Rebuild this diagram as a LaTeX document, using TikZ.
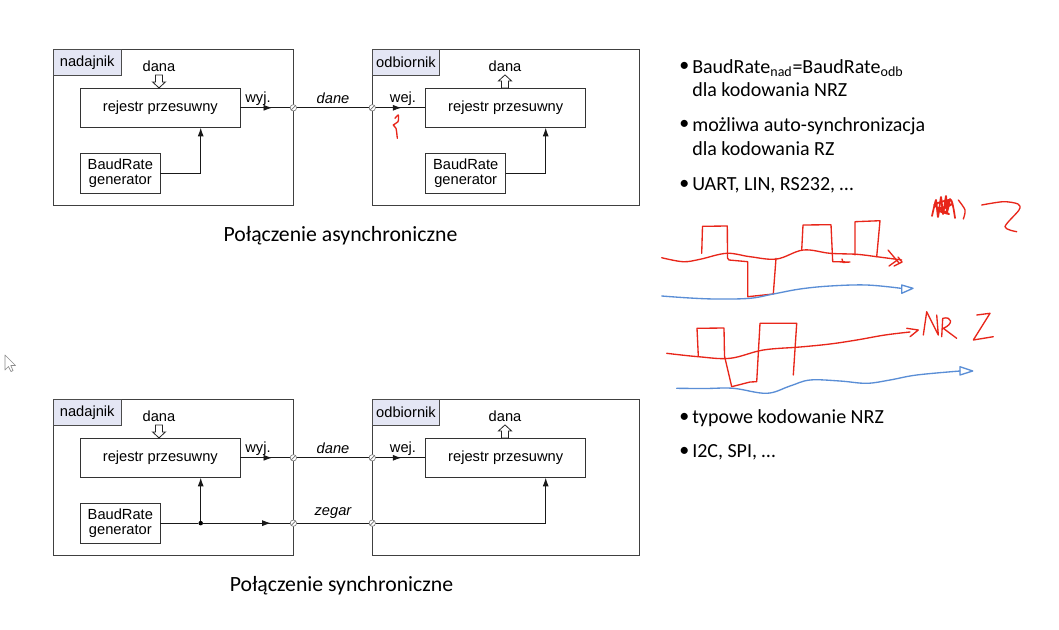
\documentclass[tikz,border=0pt]{standalone}
\usepackage{fontspec}
\setmainfont{Liberation Sans}
\newfontfamily\calfont{Carlito}
\usetikzlibrary{arrows.meta,decorations.markings}
\definecolor{lblfill}{HTML}{E4E6F4}
\definecolor{inkred}{HTML}{E8261A}
\definecolor{inkblue}{HTML}{5A8ED6}
\tikzset{
  outerbox/.style={draw=black!75, line width=0.6pt, minimum width=#1, inner sep=0pt},
  blk/.style={draw=black!80, line width=0.6pt, fill=white, inner sep=0pt, align=center, font=\fontsize{11}{11.6}\selectfont},
  lbl/.style={draw=black!70, line width=0.6pt, fill=lblfill, anchor=north west, inner sep=0pt, minimum height=19.6pt, font=\fontsize{11}{12}\selectfont},
  txt/.style={inner sep=0pt, font=\fontsize{11}{12}\selectfont},
  itxt/.style={inner sep=0pt, font=\fontsize{11}{12}\selectfont\itshape},
  wire/.style={line width=0.65pt, draw=black!90},
  arrowend/.style={-{Latex[length=6.5pt,width=4.5pt]}},
  midarr/.style={postaction={decorate}, decoration={markings, mark=at position #1 with {\arrow{Latex[length=6.5pt,width=4.5pt]}}}},
  port/.style={circle, draw=black!55, fill=white, minimum size=4.8pt, inner sep=0pt, line width=0.45pt, path picture={\draw[black!55, line width=0.5pt] (path picture bounding box.south west) -- (path picture bounding box.north east);}},
  hollow/.style={draw=black!85, fill=white, line width=0.6pt},
  bul/.style={inner sep=0pt, anchor=west, align=left, font=\calfont\fontsize{15}{17.5}\selectfont},
  captxt/.style={inner sep=0pt, font=\calfont\fontsize{16.3}{18}\selectfont},
  ink/.style={draw=inkred, line width=1pt, line cap=round, line join=round},
  binks/.style={draw=inkblue, line width=1pt, line cap=round, line join=round},
  junct/.style={circle, fill=black, minimum size=3.4pt, inner sep=0pt}
}
\begin{document}
\begin{tikzpicture}[x=0.75pt,y=-0.75pt]
\useasboundingbox[fill=white] (0,0) rectangle (1059,629);

% ================= asynchronous =================
\node[outerbox=179.6pt, minimum height=116.6pt] (txA) at (173.25,127.25) {};
\node[outerbox=200pt, minimum height=116.8pt] (rxA) at (506,127.15) {};
\node[lbl, minimum width=50.6pt] (txAl) at (txA.north west) {nadajnik};
\node[lbl, minimum width=50pt] (rxAl) at (rxA.north west) {odbiornik};

\node[blk, minimum width=119.5pt, minimum height=29.25pt] (regTA) at (160.35,107.8) {rejestr przesuwny};
\node[blk, minimum width=59.5pt, minimum height=30.2pt] (baudTA) at (120.35,173.15) {BaudRate\\generator};
\node[blk, minimum width=120pt, minimum height=29.25pt] (regRA) at (505.7,107.8) {rejestr przesuwny};
\node[blk, minimum width=60pt, minimum height=30.2pt] (baudRA) at (465.7,173.15) {BaudRate\\generator};

\node[txt] (danaTA) at (159,66) {dana};
\node[txt] (danaRA) at (505,66) {dana};
\node[txt] (wyjA) at (258,99) {wyj.};
\node[txt] (wejA) at (403,99) {wej.};
\node[itxt] (daneA) at (333,98) {dane};

\coordinate (pTA) at (txA.east |- regTA.east);
\coordinate (pRA) at (rxA.west |- regTA.east);
\draw[wire, midarr=0.6] (regTA.east) -- (pTA);
\draw[wire] (pTA) -- (pRA);
\draw[wire, midarr=0.55] (pRA) -- (regRA.west);
\node[port] (portTA) at (pTA) {};
\node[port] (portRA) at (pRA) {};

\coordinate (cTA) at (200.7,0);
\draw[wire, arrowend] (baudTA.east) -| (cTA |- regTA.south);
\coordinate (cRA) at (545.7,0);
\draw[wire, arrowend] (baudRA.east) -| (cRA |- regRA.south);

% hollow arrows
\coordinate (hTA) at (159,0);
\draw[hollow] (hTA |- regTA.north) -- ++(-6.5,-6) -- ++(3,0) -- ++(0,-7) -- ++(7,0) -- ++(0,7) -- ++(3,0) -- cycle;
\coordinate (hRA) at (505,0);
\draw[hollow] (hRA |- regRA.north) ++(-3.5,0) -- ++(0,-7) -- ++(-3,0) -- ++(6.5,-6) -- ++(6.5,6) -- ++(-3,0) -- ++(0,7) -- cycle;

\node[captxt] (capA) at (340.5,236) {Połączenie asynchroniczne};

% ================= synchronous =================
\node[outerbox=179.6pt, minimum height=116.6pt] (txS) at (173.25,477.25) {};
\node[outerbox=200pt, minimum height=116.8pt] (rxS) at (506,477.15) {};
\node[lbl, minimum width=50.6pt] (txSl) at (txS.north west) {nadajnik};
\node[lbl, minimum width=50pt] (rxSl) at (rxS.north west) {odbiornik};

\node[blk, minimum width=119.5pt, minimum height=29.25pt] (regTS) at (160.35,457.8) {rejestr przesuwny};
\node[blk, minimum width=59.5pt, minimum height=30.2pt] (baudTS) at (120.35,523.15) {BaudRate\\generator};
\node[blk, minimum width=120pt, minimum height=29.25pt] (regRS) at (505.7,457.8) {rejestr przesuwny};

\node[txt] (danaTS) at (159,416) {dana};
\node[txt] (danaRS) at (505,416) {dana};
\node[txt] (wyjS) at (258,449) {wyj.};
\node[txt] (wejS) at (403,449) {wej.};
\node[itxt] (daneS) at (333,448) {dane};
\node[itxt] (zegarS) at (333,513) {zegar};

\coordinate (pTS) at (txS.east |- regTS.east);
\coordinate (pRS) at (rxS.west |- regTS.east);
\draw[wire, midarr=0.6] (regTS.east) -- (pTS);
\draw[wire] (pTS) -- (pRS);
\draw[wire, midarr=0.55] (pRS) -- (regRS.west);

\coordinate (qTS) at (txS.east |- baudTS.east);
\coordinate (qRS) at (rxS.west |- baudTS.east);
\coordinate (jS) at (200.7,0);
\node[junct] (jn) at (jS |- baudTS.east) {};
\draw[wire] (baudTS.east) -- (jn);
\draw[wire, arrowend] (jn) -- (jn |- regTS.south);
\draw[wire, midarr=0.75] (jn) -- (qTS);
\draw[wire] (qTS) -- (qRS);
\coordinate (cRS) at (545.7,0);
\draw[wire, arrowend] (qRS) -| (cRS |- regRS.south);
\node[port] (portTS) at (pTS) {};
\node[port] (portRS) at (pRS) {};
\node[port] (portTS2) at (qTS) {};
\node[port] (portRS2) at (qRS) {};

\coordinate (hTS) at (159,0);
\draw[hollow] (hTS |- regTS.north) -- ++(-6.5,-6) -- ++(3,0) -- ++(0,-7) -- ++(7,0) -- ++(0,7) -- ++(3,0) -- cycle;
\coordinate (hRS) at (505,0);
\draw[hollow] (hRS |- regRS.north) ++(-3.5,0) -- ++(0,-7) -- ++(-3,0) -- ++(6.5,-6) -- ++(6.5,6) -- ++(-3,0) -- ++(0,7) -- cycle;

\node[captxt] (capS) at (341.5,586) {Połączenie synchroniczne};

% ================= bullets =================
\node[bul] (b1) at (679,66.7) {•};
\node[bul] (t1) at (692,78.3) {BaudRate\textsubscript{nad}=BaudRate\textsubscript{odb}\\dla kodowania NRZ};
\node[bul] (b2) at (679,125) {•};
\node[bul] (t2) at (692,136.5) {możliwa auto-synchronizacja\\dla kodowania RZ};
\node[bul] (b3) at (679,185) {•};
\node[bul] (t3) at (692,185) {UART, LIN, RS232, …};
\node[bul] (b4) at (679,418) {•};
\node[bul] (t4) at (692,418) {typowe kodowanie NRZ};
\node[bul] (b5) at (679,452) {•};
\node[bul] (t5) at (692,452) {I2C, SPI, …};

% ================= hand-drawn ink =================
% mark near wej.
\draw[ink] plot[smooth] coordinates {(395,118.3) (398.3,115) (398,121.7) (393.3,125) (396,128.3) (397.3,138.3)};
% RZ wave
\draw[ink] plot[smooth, tension=0.6] coordinates {(661.7,257.7) (683,261.7) (700,259.3) (726.7,253.3) (750,256.7) (776.7,259) (803.3,250) (830,253.3) (856.7,254.3) (876.7,256.7) (901.7,260)};
\draw[ink] (701.7,253.3) -- (702.5,226.3) -- (727.3,226) -- (727.5,258) -- (729,260) -- (747.7,261.7) -- (747.7,296.7) -- (773.3,294) -- (776,258.3);
\draw[ink] (801.7,250) -- (803,225) -- (831,224.7) -- (832.7,261.7) -- (850,262) -- (843,262.5) -- (842,259);
\draw[ink] (855,255) -- (855,221.7) -- (880,220.7) -- (876.7,256.7);
\draw[ink] (888,250) -- (899,263) (889,266) -- (896,261) (898,257) -- (902,262) -- (894,266);
% crossed-out scribble and Z
\draw[ink, line width=1.3pt] plot[smooth, tension=0.3] coordinates {(932,216) (936,200) (938,217) (941,197) (943,214) (946,196) (947,212) (950,199) (945,208) (952,204) (937,210) (949,214) (934,205) (951,200) (955,218)};
\draw[ink] plot[smooth] coordinates {(958.3,200) (965,210) (963.3,219)};
\draw[ink] plot[smooth, tension=0.5] coordinates {(981.7,205) (1003.3,201.7) (1018,204) (1019,210) (1005,226.7) (1016.7,231.7)};
% blue 1
\draw[binks] plot[smooth, tension=0.6] coordinates {(661.7,296) (690,298) (716.7,299) (750,298.3) (773.3,294) (800,289) (830,286) (866.7,285) (901,288.3)};
\draw[binks] (901.7,285) -- (913,288.3) -- (901.7,293.3) -- cycle;
% NRZ wave
\draw[ink] plot[smooth, tension=0.6] coordinates {(666.7,353.3) (698.3,356.7) (730,358.3) (763.3,350) (800,347) (830,344) (856.7,340) (885,335) (910,332)};
\draw[ink] (906.7,328.3) -- (918.3,330) -- (910,336.7);
\draw[ink] (698.3,356) -- (697,328.3) -- (724,328) -- (724.5,356) -- (731.7,386.7) -- (750,382) -- (756.7,381.7) -- (760,323.3) -- (796.7,323.3) -- (793.3,375);
\draw[ink] (923.3,335) -- (926.7,311.7) -- (938.3,335) -- (936.7,315);
\draw[ink] (941.7,336.7) -- (942.7,318.3) .. controls (952,316) and (954,324) .. (943.3,328.3) -- (956.7,338.3);
\draw[ink] (976.7,315) -- (990,313.3) -- (973.3,340) -- (993.3,336.7);
% blue 2
\draw[binks] plot[smooth, tension=0.6] coordinates {(676.7,388.3) (705,388.5) (733.3,388.3) (766.7,393.3) (790,386) (810,380) (840,381) (866.7,383.3) (890,380) (916.7,375) (960,371)};
\draw[binks] (960,366.7) -- (972.7,371) -- (960,375) -- cycle;

% mouse cursor
\draw[black!45, line width=0.5pt, fill=white, line join=round] (5,355) -- (5,370) -- (8.5,366.5) -- (11,371.5) -- (13,370.5) -- (10.8,365.5) -- (15.5,365.5) -- cycle;
\end{tikzpicture}
\end{document}
